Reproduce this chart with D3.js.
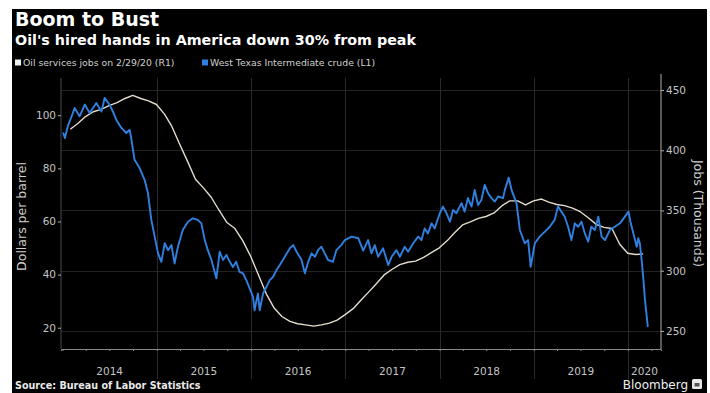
<!DOCTYPE html>
<html>
<head>
<meta charset="utf-8">
<script src="https://cdn.jsdelivr.net/npm/d3@7"></script>
<style>
  html, body { margin: 0; padding: 0; background: #fff; }
  svg { display: block; }
  text { font-family: "DejaVu Sans", sans-serif; }
</style>
</head>
<body>
<svg id="chart" width="710" height="393"></svg>
<script>
// WTI crude, dollars per barrel (left axis)
const wtiDates = [
  "2014-01-03","2014-01-10","2014-01-22","2014-02-05","2014-02-17","2014-03-08","2014-03-28","2014-04-16",
  "2014-05-12","2014-06-01","2014-06-13","2014-07-02","2014-07-15","2014-07-28","2014-08-17","2014-09-05",
  "2014-09-18","2014-09-24","2014-10-07","2014-10-27","2014-11-15","2014-11-28","2014-12-11","2014-12-24",
  "2015-01-06","2015-01-19","2015-02-01","2015-02-14","2015-02-27","2015-03-11","2015-03-24","2015-04-12",
  "2015-05-02","2015-05-21","2015-06-09","2015-06-23","2015-07-06","2015-07-18","2015-08-01","2015-08-20",
  "2015-09-02","2015-09-15","2015-09-28","2015-10-11","2015-10-23","2015-11-05","2015-11-18","2015-12-01",
  "2015-12-14","2015-12-27","2016-01-09","2016-01-15","2016-01-28","2016-02-04","2016-02-17","2016-03-01",
  "2016-03-14","2016-03-27","2016-04-09","2016-04-22","2016-05-11","2016-05-31","2016-06-13","2016-06-26",
  "2016-07-15","2016-07-28","2016-08-10","2016-08-23","2016-09-05","2016-09-17","2016-09-30","2016-10-13",
  "2016-10-26","2016-11-14","2016-11-27","2016-12-16","2016-12-30","2017-01-25","2017-02-20","2017-03-11",
  "2017-03-30","2017-04-12","2017-04-25","2017-05-08","2017-05-27","2017-06-16","2017-06-29","2017-07-18",
  "2017-07-31","2017-08-19","2017-09-01","2017-09-21","2017-10-10","2017-10-23","2017-11-04","2017-11-17",
  "2017-12-01","2017-12-13","2018-01-02","2018-01-14","2018-01-28","2018-02-10","2018-02-22","2018-03-07",
  "2018-03-27","2018-04-08","2018-04-21","2018-05-05","2018-05-17","2018-05-30","2018-06-12","2018-06-25",
  "2018-07-08","2018-07-21","2018-08-03","2018-08-16","2018-09-04","2018-09-11","2018-09-26","2018-10-08",
  "2018-10-26","2018-11-08","2018-11-27","2018-12-10","2018-12-20","2019-01-05","2019-01-24","2019-02-13",
  "2019-03-04","2019-03-23","2019-04-05","2019-04-18","2019-05-01","2019-05-14","2019-05-27","2019-06-09",
  "2019-06-22","2019-07-05","2019-07-18","2019-07-31","2019-08-12","2019-08-26","2019-09-08","2019-09-21",
  "2019-10-04","2019-10-23","2019-11-11","2019-12-01","2019-12-20","2020-01-03","2020-01-12","2020-01-25",
  "2020-02-04","2020-02-10","2020-02-16","2020-02-23","2020-03-01","2020-03-07","2020-03-18"
];
const wtiPrices = [
  93.5, 91.4, 96.0, 99.5, 102.7, 99.6, 104.0, 100.8,
  104.6, 101.4, 106.5, 104.0, 101.4, 98.3, 95.2, 93.3,
  94.5, 91.4, 83.2, 80.0, 75.7, 70.6, 60.6, 54.3,
  48.0, 44.8, 51.8, 49.2, 51.1, 44.2, 50.5, 56.8,
  59.9, 61.2, 60.6, 59.3, 53.0, 49.2, 45.5, 38.6,
  48.6, 45.5, 47.4, 44.8, 42.9, 44.8, 41.0, 40.5,
  37.9, 34.8, 31.6, 26.6, 32.9, 26.6, 32.9, 35.4,
  37.9, 39.2, 41.7, 43.6, 46.7, 49.9, 51.1, 48.6,
  45.5, 40.5, 44.8, 48.0, 46.7, 49.2, 50.5, 48.0,
  45.5, 44.8, 49.2, 51.1, 53.0, 54.3, 53.7, 49.0,
  53.0, 48.0, 51.1, 46.7, 49.9, 43.6, 46.7, 49.2,
  46.7, 50.5, 48.6, 51.8, 54.3, 53.0, 57.4, 55.5,
  59.3, 57.4, 63.1, 65.6, 63.1, 59.9, 64.3, 63.1,
  66.9, 63.7, 68.8, 65.6, 71.9, 66.2, 68.1, 73.8,
  70.6, 68.8, 67.5, 69.4, 68.8, 71.9, 76.5, 71.5,
  66.9, 56.8, 51.8, 53.0, 42.9, 51.8, 54.3, 56.2,
  58.0, 60.6, 65.6, 63.7, 61.8, 58.0, 53.0, 59.3,
  58.0, 59.9, 55.5, 52.4, 58.0, 56.8, 61.8, 54.3,
  53.0, 56.8, 58.0, 59.3, 61.8, 63.7, 59.3, 54.3,
  50.5, 53.7, 51.8, 45.5, 37.9, 30.4, 20.3
];

// Oil services jobs, thousands, month-end (right axis)
const jobsMonths = [
  "2014-01","2014-02","2014-03","2014-04","2014-05","2014-06","2014-07","2014-08","2014-09","2014-10","2014-11","2014-12",
  "2015-01","2015-02","2015-03","2015-04","2015-05","2015-06","2015-07","2015-08","2015-09","2015-10","2015-11","2015-12",
  "2016-01","2016-02","2016-03","2016-04","2016-05","2016-06","2016-07","2016-08","2016-09","2016-10","2016-11","2016-12",
  "2017-01","2017-02","2017-03","2017-04","2017-05","2017-06","2017-07","2017-08","2017-09","2017-10","2017-11","2017-12",
  "2018-01","2018-02","2018-03","2018-04","2018-05","2018-06","2018-07","2018-08","2018-09","2018-10","2018-11","2018-12",
  "2019-01","2019-02","2019-03","2019-04","2019-05","2019-06","2019-07","2019-08","2019-09","2019-10","2019-11","2019-12",
  "2020-01","2020-02"
];
const jobsThousands = [
  417.5, 422, 428, 432, 434, 437, 439.5, 443, 445.5, 443, 441, 438,
  430, 420, 405, 391, 376, 369, 361, 350, 340, 335, 325, 312,
  296, 281, 269, 262, 258, 256, 255, 254, 255, 256.5, 259, 263.5,
  268.5, 275, 282, 289, 296.5, 301, 305, 307, 308, 311, 315, 319,
  325, 331.5, 338, 340.5, 343.5, 345, 348, 354, 358, 358, 354.6, 358,
  359.5, 357, 355, 354, 352, 349, 344, 338.5, 336, 335, 322, 314.5,
  313.5, 314
];

const priceTicks = [20, 40, 60, 80, 100];
const jobsTicks = [250, 300, 350, 400, 450];
const yearLabels = [2014, 2015, 2016, 2017, 2018, 2019, 2020];

const titleText = "Boom to Bust";
const subtitleText = "Oil's hired hands in America down 30% from peak";
const legendJobs = "Oil services jobs on 2/29/20 (R1)";
const legendWti = "West Texas Intermediate crude (L1)";
const sourceText = "Source: Bureau of Labor Statistics";

const parseDay = d3.timeParse("%Y-%m-%d");
const parseMonth = d3.timeParse("%Y-%m");
const wti = wtiDates.map((d, i) => ({ date: parseDay(d), value: wtiPrices[i] }));
const jobs = jobsMonths.map((m, i) => {
  const s = parseMonth(m);
  return { date: new Date(s.getFullYear(), s.getMonth() + 1, 0), value: jobsThousands[i] };
});

const svg = d3.select("#chart");
const W = 710, H = 393;
const plot = { left: 61, right: 661, top: 78, bottom: 349 };

const BLUE = "#2f80e0";
const BEIGE = "#e4dccd";
const GRID = "#222";

// dark panel
svg.append("rect").attr("x", 12).attr("y", 9).attr("width", W - 12 - 3).attr("height", H - 9).attr("fill", "#000");

const x = d3.scaleTime()
  .domain([new Date(2013, 11, 26), new Date(2020, 4, 8)])
  .range([plot.left, plot.right]);
const yL = d3.scaleLinear().domain([12, 114]).range([plot.bottom, plot.top]);
const yR = d3.scaleLinear().domain([235, 460]).range([plot.bottom, plot.top]);

// horizontal grid at right-axis ticks
svg.append("g").selectAll("line").data(jobsTicks).join("line")
  .attr("x1", plot.left).attr("x2", plot.right)
  .attr("y1", d => Math.round(yR(d)) + 0.5).attr("y2", d => Math.round(yR(d)) + 0.5)
  .attr("stroke", GRID).attr("stroke-width", 1);

// year boundaries
const bounds = d3.range(2015, 2021).map(y => new Date(y, 0, 1));
svg.append("g").selectAll("line").data(bounds).join("line")
  .attr("x1", d => Math.round(x(d)) + 0.5).attr("x2", d => Math.round(x(d)) + 0.5)
  .attr("y1", plot.top).attr("y2", 379)
  .attr("stroke", "#2a2a2a").attr("stroke-width", 1);

// bottom axis: quarterly ticks
const quarters = d3.timeMonth.every(3).range(new Date(2014, 0, 1), new Date(2020, 4, 8));
const xAxis = d3.axisBottom(x).tickValues(quarters).tickSize(2).tickFormat("");
const gx = svg.append("g").attr("transform", `translate(0,${plot.bottom})`).call(xAxis);
gx.select(".domain").attr("stroke", "#8a8a8a");
gx.selectAll(".tick line").attr("stroke", "#8a8a8a");

// year labels centred in each visible year span
const [d0, d1] = x.domain();
svg.append("g").selectAll("text").data(yearLabels).join("text")
  .attr("x", y => {
    const a = Math.max(+new Date(y, 0, 1), +d0), b = Math.min(+new Date(y + 1, 0, 1), +d1);
    return (x(new Date(a)) + x(new Date(b))) / 2;
  })
  .attr("y", 375)
  .attr("text-anchor", "middle")
  .attr("fill", "#c4c4c4").attr("font-size", 10.5)
  .text(d => d);

// left axis
const gl = svg.append("g").attr("transform", `translate(${plot.left},0)`)
  .call(d3.axisLeft(yL).tickValues(priceTicks).tickSize(3).tickPadding(2));
gl.select(".domain").attr("stroke", "#4a4a4a").attr("d", `M0,${plot.top}V${plot.bottom}`);
gl.selectAll(".tick line").attr("stroke", "#aaa");
gl.selectAll(".tick text").attr("fill", "#c4c4c4").attr("font-size", 10.5)
  .attr("font-family", "DejaVu Sans, sans-serif");

// right axis
const gr = svg.append("g").attr("transform", `translate(${plot.right},0)`)
  .call(d3.axisRight(yR).tickValues(jobsTicks).tickSize(3).tickPadding(2));
gr.select(".domain").attr("stroke", "#b0b0b0").attr("d", `M0,${plot.top - 4}V${plot.bottom}`);
gr.selectAll(".tick line").attr("stroke", "#b0b0b0");
gr.selectAll(".tick text").attr("fill", "#c4c4c4").attr("font-size", 10.5)
  .attr("font-family", "DejaVu Sans, sans-serif");

// axis titles
svg.append("text")
  .attr("transform", `translate(26,${(plot.top + plot.bottom) / 2 + 3}) rotate(-90)`)
  .attr("text-anchor", "middle").attr("fill", "#cfcfcf").attr("font-size", 12.5)
  .text("Dollars per barrel");
svg.append("text")
  .attr("transform", `translate(694,${(plot.top + plot.bottom) / 2}) rotate(90)`)
  .attr("text-anchor", "middle").attr("fill", "#cfcfcf").attr("font-size", 12.5)
  .text("Jobs (Thousands)");

// series
const lineL = d3.line().x(d => x(d.date)).y(d => yL(d.value));
const lineR = d3.line().x(d => x(d.date)).y(d => yR(d.value));

svg.append("path").datum(jobs)
  .attr("d", lineR).attr("fill", "none")
  .attr("stroke", BEIGE).attr("stroke-width", 1.4).attr("stroke-linejoin", "round");

svg.append("path").datum(wti)
  .attr("d", lineL).attr("fill", "none")
  .attr("stroke", BLUE).attr("stroke-width", 1.9).attr("stroke-linejoin", "round");

// titles
svg.append("text").attr("x", 15).attr("y", 26)
  .attr("fill", "#fff").attr("font-size", 19).attr("font-weight", "bold")
  .text(titleText);
svg.append("text").attr("x", 15).attr("y", 45)
  .attr("fill", "#fff").attr("font-size", 14.3).attr("font-weight", "bold")
  .text(subtitleText);

// legend
const lg = svg.append("g").attr("transform", "translate(15,66)");
lg.append("rect").attr("x", 0).attr("y", -6.5).attr("width", 6).attr("height", 6).attr("fill", "#f0f0f0");
lg.append("text").attr("x", 8).attr("y", 0).attr("fill", "#d0d0d0").attr("font-size", 9.3).text(legendJobs);
lg.append("rect").attr("x", 187).attr("y", -6.5).attr("width", 6).attr("height", 6).attr("fill", BLUE);
lg.append("text").attr("x", 195).attr("y", 0).attr("fill", "#d0d0d0").attr("font-size", 9.3).text(legendWti);

// footer
svg.append("text").attr("x", 15).attr("y", 389)
  .attr("fill", "#e8e8e8").attr("font-size", 9.6).attr("font-weight", "bold")
  .text(sourceText);
svg.append("text").attr("x", 688).attr("y", 389).attr("text-anchor", "end")
  .attr("fill", "#f0f0f0").attr("font-size", 12).text("Bloomberg");
svg.append("rect").attr("x", 692).attr("y", 379).attr("width", 10).attr("height", 10).attr("rx", 1.5)
  .attr("fill", "#e8e8e8");
svg.append("rect").attr("x", 694.5).attr("y", 383).attr("width", 5).attr("height", 3.5)
  .attr("fill", "#555");
</script>
</body>
</html>
